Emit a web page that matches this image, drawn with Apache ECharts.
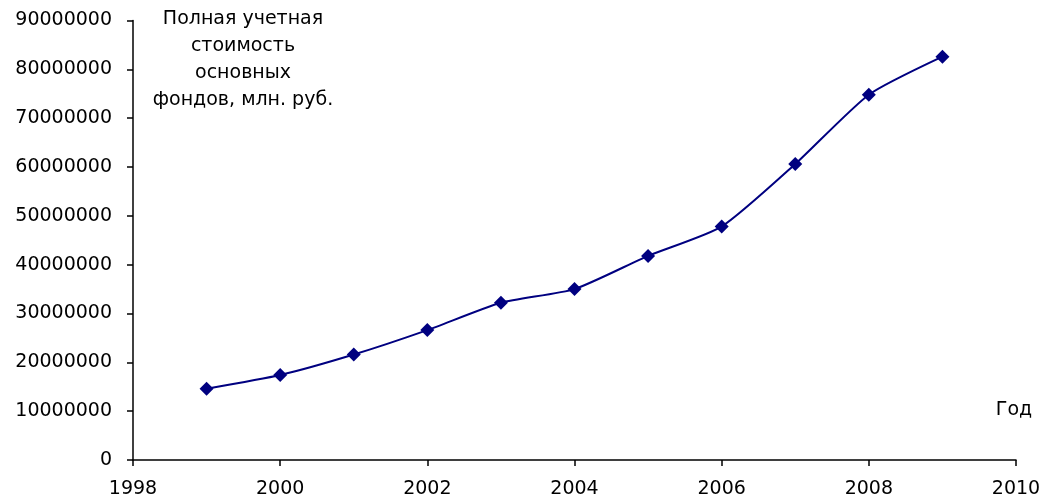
<!DOCTYPE html>
<html>
<head>
<meta charset="utf-8">
<script src="https://cdn.jsdelivr.net/npm/echarts@6/dist/echarts.min.js"></script>
<style>html,body{margin:0;padding:0;background:#fff;}#c{width:1043px;height:497px;}</style>
</head>
<body>
<div id="c"></div>
<script>
const years = [1999, 2000, 2001, 2002, 2003, 2004, 2005, 2006, 2007, 2008, 2009];
const values = [14600000, 17400000, 21600000, 26600000, 32200000, 35000000, 41800000, 47800000, 60600000, 74800000, 82600000];
const yTitleLines = ['Полная учетная', 'стоимость', 'основных', 'фондов, млн. руб.'];
const xTitle = 'Год';

const font = 'DejaVu Sans';
const chart = echarts.init(document.getElementById('c'), null, {renderer: 'canvas'});
chart.setOption({
  animation: false,
  backgroundColor: '#fff',
  grid: {left: 133, right: 27, top: 20.5, bottom: 37, containLabel: false, outerBoundsMode: 'none'},
  xAxis: {
    type: 'value', min: 1998, max: 2010, interval: 2,
    axisLine: {show: true, lineStyle: {color: '#000', width: 1.5}},
    axisTick: {show: true, inside: false, length: 6, lineStyle: {color: '#000', width: 1.5}},
    splitLine: {show: false},
    axisLabel: {color: '#000', fontFamily: font, fontSize: 19, margin: 20, formatter: v => String(v)}
  },
  yAxis: {
    type: 'value', min: 0, max: 90000000, interval: 10000000,
    axisLine: {show: true, lineStyle: {color: '#000', width: 1.5}},
    axisTick: {show: true, inside: false, length: 6, lineStyle: {color: '#000', width: 1.5}},
    splitLine: {show: false},
    axisLabel: {color: '#000', fontFamily: font, fontSize: 19, margin: 21, formatter: v => String(v)}
  },
  graphic: [
    {type: 'text', x: 243, y: 19, style: {text: yTitleLines[0], fontFamily: font, fontSize: 19, fill: '#000', align: 'center', verticalAlign: 'middle'}},
    {type: 'text', x: 243, y: 46, style: {text: yTitleLines[1], fontFamily: font, fontSize: 19, fill: '#000', align: 'center', verticalAlign: 'middle'}},
    {type: 'text', x: 243, y: 73, style: {text: yTitleLines[2], fontFamily: font, fontSize: 19, fill: '#000', align: 'center', verticalAlign: 'middle'}},
    {type: 'text', x: 243, y: 100, style: {text: yTitleLines[3], fontFamily: font, fontSize: 19, fill: '#000', align: 'center', verticalAlign: 'middle'}},
    {type: 'text', x: 1014, y: 410, style: {text: xTitle, fontFamily: font, fontSize: 19, fill: '#000', align: 'center', verticalAlign: 'middle'}}
  ],
  series: [{
    type: 'line',
    data: years.map((y, i) => [y, values[i]]),
    smooth: 0.2,
    symbol: 'diamond',
    symbolSize: [14, 14],
    lineStyle: {color: '#000080', width: 2},
    itemStyle: {color: '#000080'},
    z: 3
  }]
});
</script>
</body>
</html>
